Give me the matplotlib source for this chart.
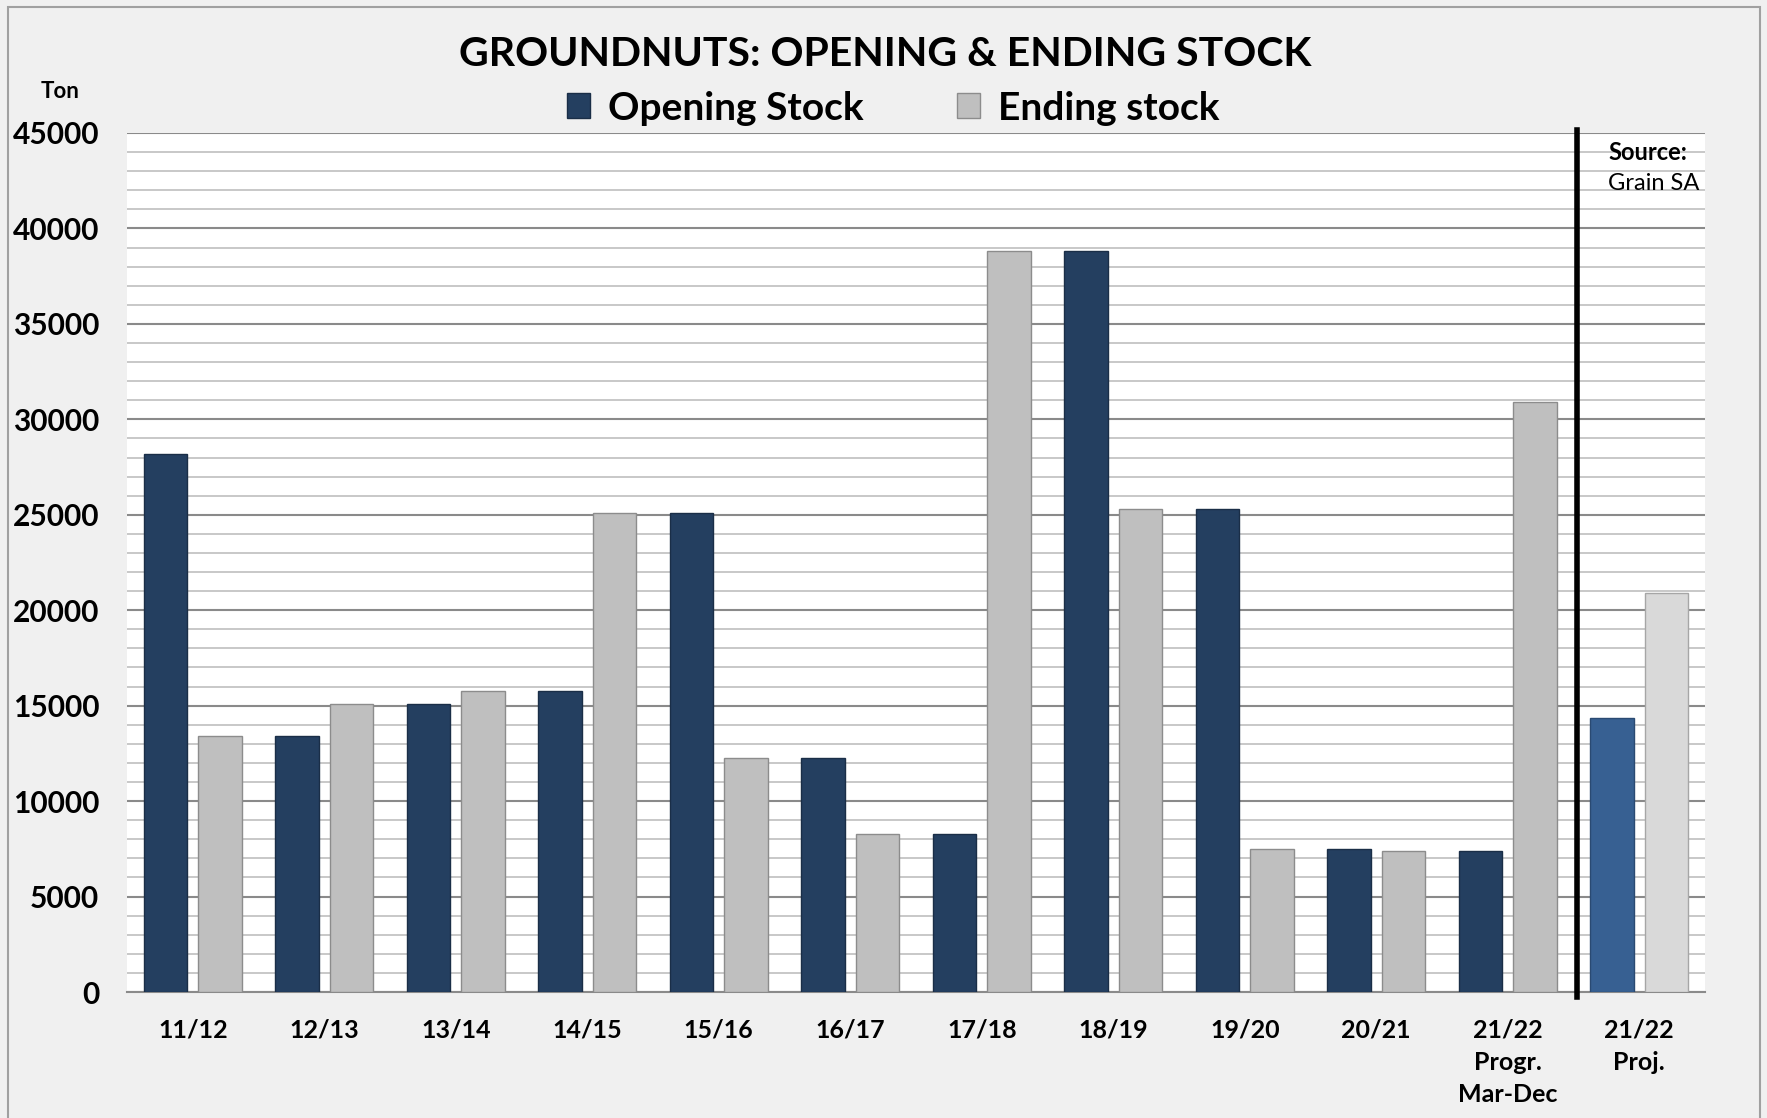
import matplotlib
matplotlib.use("Agg")
import matplotlib.pyplot as plt
import numpy as np
from matplotlib.patches import Patch, Rectangle
from matplotlib.ticker import MultipleLocator

categories = ["11/12", "12/13", "13/14", "14/15", "15/16", "16/17", "17/18",
              "18/19", "19/20", "20/21", "21/22\nProgr.\nMar-Dec", "21/22\nProj."]
opening_stock = [28200, 13400, 15100, 15750, 25100, 12250, 8300, 38800, 25300, 7500, 7400, 14350]
ending_stock = [13400, 15100, 15750, 25100, 12250, 8300, 38800, 25300, 7500, 7400, 30900, 20900]
yticks = [0, 5000, 10000, 15000, 20000, 25000, 30000, 35000, 40000, 45000]

plt.rcParams['font.family'] = ['Lato', 'DejaVu Sans']

W, H = 1767, 1118
fig = plt.figure(figsize=(W / 100, H / 100), dpi=100)
fig.patch.set_facecolor("#F0F0F0")
fig.add_artist(Rectangle((8 / W, -0.01), (1760 - 8) / W, 1 - 7 / H + 0.01,
                         transform=fig.transFigure, fill=False,
                         edgecolor="#A0A0A0", lw=1.5))

ax = fig.add_axes([127 / W, 1 - 992 / H, (1705 - 127) / W, (992 - 133) / H])
ax.set_facecolor("white")

x = np.arange(len(categories))
open_colors = ["#243F60"] * (len(categories) - 1) + ["#376092"]
end_colors = ["#BFBFBF"] * (len(categories) - 1) + ["#D9D9D9"]
open_edges = ["#1A2E47"] * (len(categories) - 1) + ["#2A4A72"]
end_edges = ["#8C8C8C"] * (len(categories) - 1) + ["#A6A6A6"]
bw = 0.33
off = 0.207
ax.bar(x - off, opening_stock, bw, color=open_colors, edgecolor=open_edges, lw=1, zorder=3)
ax.bar(x + off, ending_stock, bw, color=end_colors, edgecolor=end_edges, lw=1, zorder=3)

ax.set_xlim(-0.5, len(categories) - 0.5)
ax.set_ylim(0, 45000)
ax.set_yticks(yticks)
ax.yaxis.set_minor_locator(MultipleLocator(1000))
ax.grid(which="minor", axis="y", color="#C4C4C4", lw=1.3, zorder=0)
ax.grid(which="major", axis="y", color="#8A8A8A", lw=1.5, zorder=1)
ax.set_axisbelow(True)
for s in ["left", "right", "top"]:
    ax.spines[s].set_visible(False)
ax.spines["bottom"].set_color("#8A8A8A")
ax.spines["bottom"].set_linewidth(1.5)
ax.tick_params(axis="both", which="both", length=0)
ax.tick_params(axis="y", pad=20, labelsize=21.5)
ax.set_yticklabels([str(v) for v in yticks], fontweight="bold")
ax.set_xticks(x)
ax.set_xticklabels(categories, fontweight="bold", fontsize=18, linespacing=1.5, va="top")
ax.tick_params(axis="x", pad=19)

ax.axvline(10.53, ymin=-0.006, ymax=1.003, color="black", lw=4, clip_on=False, zorder=5)

fig.text(885 / W, 1 - 54 / H, "GROUNDNUTS: OPENING & ENDING STOCK", ha="center", va="center",
         fontsize=29.5, fontweight="bold")
fig.text(60 / W, 1 - 91 / H, "Ton", ha="center", va="center", fontsize=16, fontweight="bold")
fig.text(1608 / W, 1 - 152 / H, "Source:", ha="left", va="center", fontsize=17, fontweight="bold")
fig.text(1608 / W, 1 - 184 / H, "Grain SA", ha="left", va="center", fontsize=17)

handles = [Patch(facecolor="#243F60", edgecolor="#1A2E47", label="Opening Stock"),
           Patch(facecolor="#BFBFBF", edgecolor="#8C8C8C", label="Ending stock")]
fig.legend(handles=handles, loc="center", bbox_to_anchor=(893 / W, 1 - 108 / H), ncol=2,
           frameon=False, prop={"size": 28, "weight": "bold"}, handlelength=0.6,
           handleheight=0.6, handletextpad=0.45, columnspacing=2.4)

fig.savefig("out.png", dpi=100, facecolor=fig.get_facecolor())
